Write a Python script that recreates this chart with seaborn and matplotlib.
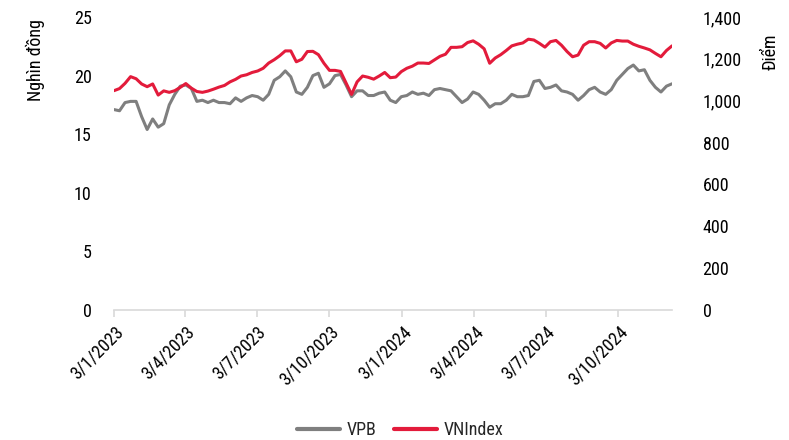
import matplotlib
matplotlib.use("Agg")
import matplotlib.pyplot as plt
import matplotlib.dates as mdates
from matplotlib.ticker import FuncFormatter
from matplotlib.lines import Line2D
import seaborn as sns
import pandas as pd
from matplotlib import font_manager

# ---- data (weekly samples) ----
start_date = "2023-01-03"
n_weeks = 102
vpb = [17.1, 17.0, 17.7, 17.8, 17.8, 16.5, 15.4, 16.3, 15.6, 15.9,
       17.5, 18.4, 19.1, 19.2, 18.9, 17.8, 17.9, 17.7, 17.9, 17.7,
       17.7, 17.6, 18.1, 17.8, 18.1, 18.3, 18.2, 17.9, 18.4, 19.6,
       19.9, 20.4, 19.9, 18.6, 18.4, 19.0, 20.0, 20.2, 19.0, 19.3,
       20.0, 20.1, 19.2, 18.2, 18.7, 18.7, 18.3, 18.3, 18.5, 18.6,
       17.9, 17.7, 18.2, 18.3, 18.6, 18.4, 18.5, 18.3, 18.8, 18.9,
       18.8, 18.7, 18.2, 17.7, 18.0, 18.6, 18.4, 17.9, 17.3, 17.6,
       17.6, 17.9, 18.4, 18.2, 18.2, 18.3, 19.5, 19.6, 18.9, 19.0,
       19.2, 18.7, 18.6, 18.4, 17.9, 18.3, 18.8, 19.0, 18.6, 18.4,
       18.8, 19.6, 20.1, 20.6, 20.9, 20.4, 20.5, 19.6, 19.0, 18.6,
       19.1, 19.3]
vnindex = [1048, 1058, 1083, 1115, 1105, 1080, 1067, 1080, 1027, 1047,
           1040, 1048, 1064, 1082, 1060, 1044, 1040, 1046, 1055, 1065,
           1073, 1090, 1102, 1118, 1124, 1135, 1142, 1155, 1180, 1196,
           1215, 1238, 1238, 1186, 1198, 1235, 1236, 1220, 1179, 1145,
           1145, 1140, 1085, 1030, 1090, 1118, 1112, 1103, 1118, 1135,
           1110, 1113, 1139, 1155, 1165, 1180, 1180, 1178, 1195, 1212,
           1222, 1255, 1255, 1258, 1278, 1286, 1270, 1248, 1179, 1204,
           1220, 1240, 1262, 1270, 1276, 1294, 1290, 1274, 1256, 1282,
           1288, 1265, 1235, 1210, 1218, 1265, 1282, 1282, 1274, 1252,
           1276, 1288, 1285, 1285, 1270, 1260, 1252, 1243, 1226, 1210,
           1240, 1262]
tick_dates = ["2023-01-03", "2023-04-03", "2023-07-03", "2023-10-03",
              "2024-01-03", "2024-04-03", "2024-07-03", "2024-10-03"]
tick_labels = ["3/1/2023", "3/4/2023", "3/7/2023", "3/10/2023",
               "3/1/2024", "3/4/2024", "3/7/2024", "3/10/2024"]
left_ticks = [0, 5, 10, 15, 20, 25]
right_ticks = [0, 200, 400, 600, 800, 1000, 1200, 1400]

dates = pd.date_range(start_date, periods=n_weeks, freq="7D")
df = pd.DataFrame({"date": dates, "VPB": vpb, "VNIndex": vnindex})

sns.set_theme(style="white")
avail = {f.name for f in font_manager.fontManager.ttflist}
fams = [f for f in ["Liberation Sans Narrow", "Roboto Condensed", "Arial Narrow",
                    "Liberation Sans", "DejaVu Sans"] if f in avail]
plt.rcParams["font.family"] = fams

GRAY = "#7F7F7F"
RED = "#E31B3B"
FS = 13

fig = plt.figure(figsize=(7.89, 4.40), dpi=100)
ax = fig.add_axes([114/789, 1-310/440, (672-114)/789, (310-17)/440])
ax2 = ax.twinx()

sns.lineplot(data=df, x="date", y="VPB", ax=ax, color=GRAY, linewidth=2.2)
sns.lineplot(data=df, x="date", y="VNIndex", ax=ax2, color=RED, linewidth=2.2)

ax.set_ylim(0, 25)
ax2.set_ylim(0, 1400)
ax.set_yticks(left_ticks)
ax2.set_yticks(right_ticks)
ax2.yaxis.set_major_formatter(FuncFormatter(lambda v, p: f"{int(v):,}"))
ax.set_xlim(dates[0], dates[-1])

td = pd.to_datetime(tick_dates)
ax.set_xticks(td)
ax.set_xticklabels(tick_labels, rotation=45, ha="right", rotation_mode="anchor")

for a in (ax, ax2):
    for s in a.spines.values():
        s.set_visible(False)
    a.set_xlabel("")
    a.set_ylabel("")
    a.grid(False)
ax.spines["bottom"].set_visible(True)
ax.spines["bottom"].set_color("#D9D9D9")
ax.spines["bottom"].set_linewidth(1.2)
ax.tick_params(axis="x", length=5, width=1.2, color="#D9D9D9", labelsize=FS,
               pad=4, labelcolor="#000000", bottom=True)
ax.tick_params(axis="y", length=0, labelsize=FS, pad=16, labelcolor="#000000")
ax2.tick_params(axis="y", length=0, labelsize=FS, pad=22, labelcolor="#000000")

fig.text(35/789, 1-60/440, "Nghìn đồng", rotation=90, ha="center", va="center",
         fontsize=FS, color="#000000")
fig.text(771/789, 1-52/440, "Điểm", rotation=90, ha="center", va="center",
         fontsize=FS, color="#000000")

handles = [Line2D([], [], color=GRAY, lw=3), Line2D([], [], color=RED, lw=3)]
fig.legend(handles, ["VPB", "VNIndex"], loc="center", bbox_to_anchor=(400/789, 1-430/440),
           ncol=2, frameon=False, fontsize=FS, handlelength=2.4, handletextpad=0.35,
           columnspacing=1.0)

fig.savefig("out.png", dpi=100)
